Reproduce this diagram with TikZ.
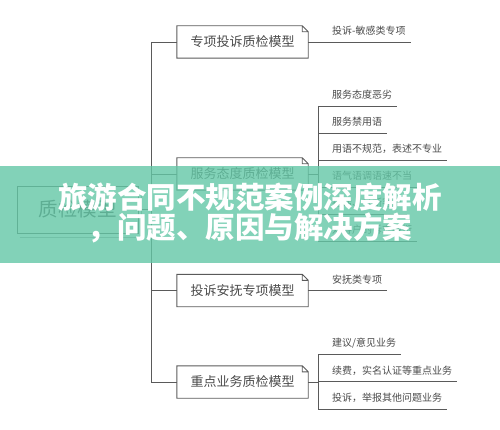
\documentclass[tikz,border=0pt]{standalone}
\usepackage{fontspec}
\setmainfont{Noto Sans CJK SC}
\newfontfamily\titlefont{Noto Sans CJK SC Black}
\usetikzlibrary{positioning}
\definecolor{linegray}{HTML}{5A5A5A}
\definecolor{textgray}{HTML}{4A4A4A}
\definecolor{mint}{RGB}{99,199,166}
\tikzset{link/.style={draw=linegray, line width=0.9pt},
  root/.style={
    draw=linegray, line width=0.9pt, fill=white,
    minimum width=121pt, minimum height=47pt,
    font=\fontsize{19.5}{20}\selectfont, text=textgray
  },
  model/.style={
    minimum width=131pt, minimum height=32pt, inner sep=0pt,
    font=\fontsize{13}{13}\selectfont, text=textgray,
    append after command={\pgfextra{
      \draw[link] (\tikzlastnode.north west) -- ([shift={(-6,0)}]\tikzlastnode.north east)
        -- ([shift={(0,6)}]\tikzlastnode.north east) -- (\tikzlastnode.south east)
        -- (\tikzlastnode.south west) -- cycle
        ([shift={(-6,0)}]\tikzlastnode.north east) |- ([shift={(0,6)}]\tikzlastnode.north east);
    }}
  },
  leaf/.style={anchor=west, inner sep=0pt, font=\fontsize{10}{10}\selectfont, text=textgray},
  title/.style={align=center, inner sep=0pt, text=white, font=\titlefont\fontsize{29.5}{30.5}\selectfont}
}

\begin{document}
\begin{tikzpicture}[x=1pt,y=-1pt]
    \useasboundingbox (0,0) rectangle (500,430);
    \node[root] (root) at (77.5,209.5) {质检模型};
    \draw[linegray!50] ([shift={(3,4)}]root.south west) -| ([shift={(3,4)}]root.north east);
    \node[model] (m1) at (242.5,42) {专项投诉质检模型};
    \node[model] (m2) at (242.5,174) {服务态度质检模型};
    \node[model] (m3) at (242.5,290.5) {投诉安抚专项模型};
    \node[model] (m4) at (242.5,382) {重点业务质检模型};
    \coordinate (trunk) at (151,0);
    \draw[link] (root.east) -- (trunk |- root.east);
    \draw[link] (trunk |- m1.west) -- (trunk |- m4.west);
    \foreach \m in {1,...,4}
      \draw[link] (trunk |- m\m.west) -- (m\m.west);
    \node[leaf] (l11) at (332,31) {投诉-敏感类专项};
    \draw[link] (m1.east) -- ([shift={(5,11)}]l11.east);
    \foreach \t [count=\i] in {服务态度恶劣, 服务禁用语, 用语不规范，表述不专业,
        语气语调语速不当, 抢话、打断客户, 对客户的诉求敷衍} {
      \node[leaf] (l2\i) at (332,68+27*\i) {\t};
      \draw[link] ([shift={(-14,11)}]l2\i.west) -- ([shift={(5,11)}]l2\i.east);
    }
    \draw[link] ([shift={(-14,11)}]l21.west) -- ([shift={(-14,11)}]l26.west);
    \draw[link] (m2.east) -- ++(10,0);
    \node[leaf] (l31) at (332,279.5) {安抚类专项};
    \draw[link] (m3.east) -- ([shift={(5,11)}]l31.east);
    \foreach \t [count=\i] in {建议/意见业务, 续费，实名认证等重点业务, 投诉，举报其他问题业务} {
      \node[leaf] (l4\i) at (332,315.5+27.5*\i) {\t};
      \draw[link] ([shift={(-14,11)}]l4\i.west) -- ([shift={(5,11)}]l4\i.east);
    }
    \draw[link] ([shift={(-14,11)}]l41.west) -- ([shift={(-14,11)}]l43.west);
    \draw[link] (m4.east) -- ++(10,0);
    \fill[mint, opacity=0.8] (0,166) rectangle (500,263);
    \node[title] (title) at (250,213) {旅游合同不规范案例深度解析\\，问题、原因与解决方案};
\end{tikzpicture}
\end{document}
